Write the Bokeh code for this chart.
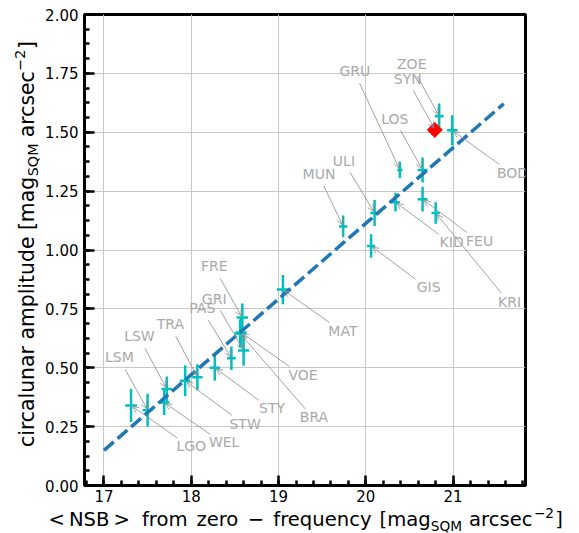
import math
import numpy as np
from bokeh.plotting import figure
from bokeh.layouts import row, column
from bokeh.models import Range1d, FixedTicker, ColumnDataSource, Arrow, OpenHead, Div
from bokeh.embed import file_html
from bokeh.resources import INLINE
from bokeh.core.properties import value

# --- data: mean night-sky brightness vs. circalunar amplitude per site ---
site = ["LGO", "LSM", "WEL", "LSW", "STW", "TRA", "STY", "PAS", "GRI", "VOE", "BRA", "FRE",
        "MAT", "MUN", "GIS", "ULI", "KID", "GRU", "LOS", "FEU", "KRI", "ZOE", "BOD"]
nsb = [17.31, 17.50, 17.69, 17.72, 17.93, 18.07, 18.27, 18.46, 18.60, 18.57, 18.56, 18.585,
       19.05, 19.74, 20.06, 20.10, 20.34, 20.39, 20.65, 20.65, 20.80, 20.84, 20.99]
nsb_err = [0.067, 0.057, 0.06, 0.06, 0.06, 0.06, 0.06, 0.05, 0.065, 0.065, 0.065, 0.065,
           0.07, 0.047, 0.048, 0.05, 0.05, 0.03, 0.057, 0.057, 0.048, 0.05, 0.06]
amp = [0.34, 0.32, 0.352, 0.41, 0.445, 0.46, 0.50, 0.54, 0.573, 0.65, 0.645, 0.713,
       0.832, 1.10, 1.017, 1.157, 1.203, 1.34, 1.34, 1.216, 1.157, 1.568, 1.508]
amp_err = [0.07, 0.07, 0.053, 0.053, 0.066, 0.055, 0.055, 0.05, 0.065, 0.06, 0.06, 0.06,
           0.062, 0.046, 0.05, 0.055, 0.04, 0.035, 0.053, 0.053, 0.046, 0.054, 0.064]

# highlighted site
syn_site = ["SYN"]
syn_nsb = [20.79]
syn_amp = [1.51]

# linear fit drawn across the sample
fit_nsb = [17.0, 21.58]
fit_amp = [0.149, 1.621]

# annotation text positions (data coordinates)
label_x = [18.00, 17.177, 18.377, 17.406, 18.617, 17.76, 18.926, 18.126, 18.263, 19.28, 19.406, 18.263,
           19.737, 19.463, 20.72, 19.749, 20.983, 19.874, 20.331, 21.303, 21.646, 20.526, 21.68]
label_y = [0.166, 0.544, 0.183, 0.633, 0.263, 0.684, 0.327, 0.752, 0.794, 0.471, 0.289, 0.93,
           0.658, 1.321, 0.841, 1.38, 1.032, 1.758, 1.558, 1.04, 0.781, 1.788, 1.329]
syn_label_x = [20.48]
syn_label_y = [1.728]

x_ticks = [17, 18, 19, 20, 21]
x_tick_labels = ["17", "18", "19", "20", "21"]
y_ticks = [0.0, 0.25, 0.5, 0.75, 1.0, 1.25, 1.5, 1.75, 2.0]
y_tick_labels = ["0.00", "0.25", "0.50", "0.75", "1.00", "1.25", "1.50", "1.75", "2.00"]

# --- geometry ---
W, H = 579, 533
YT_W = 42            # strip holding the vertical axis title
XT_H = 26            # strip holding the horizontal axis title
PW, PH = W - YT_W, H - XT_H
BL, BR, BT, BB = 41, 54, 14, 22
X0, X1 = 16.777, 21.829
Y0, Y1 = 0.0, 2.0
FW, FH = PW - BL - BR, PH - BT - BB
KX, KY = FW / (X1 - X0), FH / (Y1 - Y0)

FONT = "DejaVu Sans"
CYAN = "#00bfbf"
BLUE = "#1f77b4"
GREY_TXT = "#a9a9a9"
GREY_ARR = "#8a8a8a"

# DejaVu Sans advance widths (em)
ADV = {' ': .318, '<': .838, '>': .838, '−': .838, 'N': .748, 'S': .635, 'B': .686, 'Q': .787,
       'M': .863, 'f': .352, 'r': .411, 'o': .612, 'm': .974, 'z': .525, 'e': .615, 'q': .635,
       'u': .634, 'n': .634, 'c': .55, 'y': .592, '[': .39, ']': .39, 'a': .613, 'g': .635,
       's': .521, '2': .636, 'i': .278, 'l': .278, 'p': .635, 't': .392, 'd': .635,
       'G': .775, 'R': .695, 'U': .732, 'Z': .685, 'O': .787, 'L': .557, 'K': .656, 'I': .295,
       'D': .77, 'F': .575, 'E': .632, 'T': .611, 'A': .684, 'V': .684, 'W': .989, 'Y': .611}


def text_width(s, size):
    return sum(ADV.get(ch, 0.6) for ch in s) * size


p = figure(width=PW, height=PH, x_range=Range1d(X0, X1), y_range=Range1d(Y0, Y1),
           output_backend="svg", toolbar_location=None,
           min_border_left=BL, min_border_right=BR, min_border_top=BT, min_border_bottom=BB)
p.background_fill_color = "white"
p.border_fill_color = "white"
p.outline_line_color = "black"
p.outline_line_width = 3

# axes and ticks
p.xaxis.ticker = FixedTicker(ticks=x_ticks, minor_ticks=list(np.round(np.arange(16.8, 21.81, 0.2), 2)))
p.yaxis.ticker = FixedTicker(ticks=y_ticks, minor_ticks=list(np.arange(0, 2.001, 0.0625)))
p.xaxis.major_label_overrides = {t: s for t, s in zip(x_ticks, x_tick_labels)}
p.yaxis.major_label_overrides = {t: s for t, s in zip(y_ticks, y_tick_labels)}
for ax in (p.xaxis, p.yaxis):
    ax.axis_line_color = "black"
    ax.axis_line_width = 3
    ax.major_tick_in = 10
    ax.major_tick_out = 0
    ax.minor_tick_in = 5
    ax.minor_tick_out = 0
    ax.major_tick_line_width = 2.5
    ax.minor_tick_line_width = 2.5
    ax.major_tick_line_color = "black"
    ax.minor_tick_line_color = "black"
    ax.major_label_text_font = FONT
    ax.major_label_text_font_size = "15px"
    ax.major_label_text_color = "black"
p.xaxis.major_label_standoff = 4
p.yaxis.major_label_standoff = 6

p.xgrid.ticker = FixedTicker(ticks=x_ticks)
p.ygrid.ticker = FixedTicker(ticks=y_ticks)
for g in (p.xgrid, p.ygrid):
    g.grid_line_color = "#c8c8c8"
    g.grid_line_width = 1

# error bars
src = ColumnDataSource(dict(
    site=site, nsb=nsb, amp=amp,
    xl=[x - e for x, e in zip(nsb, nsb_err)], xr=[x + e for x, e in zip(nsb, nsb_err)],
    yl=[y - e for y, e in zip(amp, amp_err)], yh=[y + e for y, e in zip(amp, amp_err)],
))
p.segment(x0="xl", y0="amp", x1="xr", y1="amp", source=src, line_color=CYAN, line_width=2.5)
p.segment(x0="nsb", y0="yl", x1="nsb", y1="yh", source=src, line_color=CYAN, line_width=2.5)

# fit line
p.line(fit_nsb, fit_amp, line_color=BLUE, line_width=3.5, line_dash="13 5")

# highlighted site
p.scatter(syn_nsb, syn_amp, marker="square", angle=math.pi / 4, size=10.6,
          fill_color="red", line_color="red")

# site annotations with arrows from the label box edge to the site
names = site + syn_site
lxs = label_x + syn_label_x
lys = label_y + syn_label_y
pxs = nsb + syn_nsb
pys = amp + syn_amp
ax0, ay0, ax1, ay1 = [], [], [], []
ANN_FS = 14
for n, lx, ly, px, py in zip(names, lxs, lys, pxs, pys):
    cy = ly - 1.5 / KY
    dx, dy = (px - lx) * KX, (py - cy) * KY
    d = math.hypot(dx, dy)
    ux, uy = dx / d, dy / d
    hw, hh = text_width(n, ANN_FS) / 2 + 1, 8.5
    t = min(hw / abs(dx) if dx else 1e9, hh / abs(dy) if dy else 1e9)
    ax0.append(lx + (t * dx + 2 * ux) / KX)
    ay0.append(cy + (t * dy + 2 * uy) / KY)
    ax1.append(px - 2 * ux / KX)
    ay1.append(py - 2 * uy / KY)
arr_src = ColumnDataSource(dict(x0=ax0, y0=ay0, x1=ax1, y1=ay1))
p.add_layout(Arrow(end=OpenHead(size=6, line_color=GREY_ARR, line_width=0.8),
                   x_start="x0", y_start="y0", x_end="x1", y_end="y1", source=arr_src,
                   line_color=GREY_ARR, line_width=0.8))
lab_src = ColumnDataSource(dict(x=lxs, y=lys, text=names))
p.text(x="x", y="y", text="text", source=lab_src, text_font=value(FONT),
       text_font_size=f"{ANN_FS}px", text_color=GREY_TXT, text_align="center",
       text_baseline="middle")


# --- axis titles: runs of text with subscript / superscript ---
def esc(s):
    return s.replace("&", "&amp;").replace("<", "&lt;").replace(">", "&gt;")


def runs_html(pieces, start, baseline, fs):
    """pieces: (text, scale, baseline shift in em, gap before in px)."""
    out, cur = [], start
    for txt, scale, shift, gap in pieces:
        cur += gap
        size = fs * scale
        top = baseline + shift * fs - 0.846 * size
        out.append(f'<span style="position:absolute;left:{cur:.1f}px;top:{top:.1f}px;'
                   f'font-size:{size:.1f}px;line-height:{size:.1f}px">{esc(txt)}</span>')
        cur += text_width(txt, size)
    return "".join(out)


SUB, SUP = 0.22, -0.42
X_FS, Y_FS = 19.6, 20.4
x_title = [("<", 1, 0, 0), ("NSB", 1, 0, 4), (">", 1, 0, 4), ("from", 1, 0, 12),
           ("zero", 1, 0, 8.5), ("−", 1, 0, 9), ("frequency", 1, 0, 9), ("[mag", 1, 0, 7.5),
           ("SQM", 0.7, SUB, 0), ("arcsec", 1, 0, 7), ("−2", 0.7, SUP, 1), ("]", 1, 0, 1)]
y_title = [("circalunar amplitude [mag", 1, 0, 0), ("SQM", 0.7, SUB, 0),
           ("arcsec", 1, 0, 6.4), ("−2", 0.7, SUP, 0), ("]", 1, 0, 0.5)]

base_style = (f"position:relative;font-family:'{FONT}';color:black;white-space:nowrap;"
              f"margin:0;padding:0;")
x_html = (f'<div style="{base_style}width:{PW}px;height:{XT_H}px">'
          + runs_html(x_title, 48.5 - YT_W, 527 - PH, X_FS) + '</div>')
# vertical title: a row of runs rotated a quarter turn, reading bottom to top
y_inner = runs_html(y_title, 0, 21, Y_FS)
y_html = (f'<div style="{base_style}width:{YT_W}px;height:{H}px">'
          f'<div style="position:absolute;left:{34 - 21}px;top:447px;width:460px;height:30px;'
          f'transform:rotate(-90deg);transform-origin:0 0">{y_inner}</div></div>')

x_div = Div(text=x_html, width=PW, height=XT_H, margin=0, styles={"overflow": "visible"})
y_div = Div(text=y_html, width=YT_W, height=H, margin=0, styles={"overflow": "visible"})

layout = row(y_div, column(p, x_div, spacing=0), spacing=0)
open("out.html", "w").write(file_html(layout, INLINE))
